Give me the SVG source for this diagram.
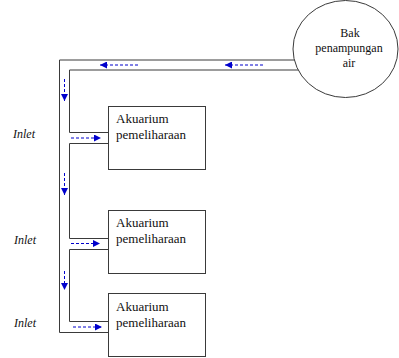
<svg xmlns="http://www.w3.org/2000/svg" width="399" height="358" viewBox="0 0 399 358">
<style>
.pipe{fill:none;stroke:#3a3a3a;stroke-width:1}
.box{fill:#fff;stroke:#3a3a3a;stroke-width:1}
.flow{fill:none;stroke:#0000cc;stroke-width:1;stroke-dasharray:3,2;marker-end:url(#ah)}
.t{font-family:"Liberation Serif","Times New Roman",serif;font-size:13px;fill:#111}
.c{font-family:"Liberation Serif","Times New Roman",serif;font-size:12px;fill:#111;text-anchor:middle}
.inl{font-family:"Liberation Serif","Times New Roman",serif;font-size:12px;font-style:italic;fill:#111}
</style>
<defs>
<marker id="ah" markerUnits="userSpaceOnUse" markerWidth="7" markerHeight="7" refX="7" refY="3.5" orient="auto">
<path d="M0,0 L7,3.5 L0,7 z" fill="#0000cc"/>
</marker>
</defs>
<rect width="399" height="358" fill="#fff"/>
<g id="connectors">
<polyline class="pipe" points="296,60 59.5,60 59.5,332.5 108,332.5"/>
<polyline class="pipe" points="299,70 69.5,70 69.5,132.5 108,132.5"/>
<polyline class="pipe" points="108,143.5 69.5,143.5 69.5,238.5 108,238.5"/>
<polyline class="pipe" points="108,249.5 69.5,249.5 69.5,321.5 108,321.5"/>
<line class="flow" x1="263" y1="65" x2="225" y2="65"/>
<line class="flow" x1="138" y1="65" x2="100" y2="65"/>
<line class="flow" x1="64.5" y1="79" x2="64.5" y2="101"/>
<line class="flow" x1="64.5" y1="173" x2="64.5" y2="195"/>
<line class="flow" x1="64.5" y1="271" x2="64.5" y2="290"/>
<line class="flow" x1="71" y1="138" x2="101" y2="138"/>
<line class="flow" x1="71" y1="243.5" x2="100" y2="243.5"/>
<line class="flow" x1="73" y1="327" x2="102" y2="327"/>
</g>
<g id="bak">
<ellipse class="box" cx="345.5" cy="49" rx="52.5" ry="48.5"/>
<text class="c" x="350" y="37">Bak</text>
<text class="c" x="349" y="52">penampungan</text>
<text class="c" x="349" y="67">air</text>
</g>
<g id="akuarium1">
<rect class="box" x="108.5" y="106.5" width="97" height="63"/>
<text class="t" x="116" y="123">Akuarium</text>
<text class="t" x="116" y="139">pemeliharaan</text>
</g>
<g id="akuarium2">
<rect class="box" x="108.5" y="210.5" width="97" height="63"/>
<text class="t" x="116" y="227">Akuarium</text>
<text class="t" x="116" y="243">pemeliharaan</text>
</g>
<g id="akuarium3">
<rect class="box" x="108.5" y="293.5" width="97" height="63"/>
<text class="t" x="116" y="311">Akuarium</text>
<text class="t" x="116" y="327">pemeliharaan</text>
</g>
<g id="inlets">
<text class="inl" x="13" y="138">Inlet</text>
<text class="inl" x="14" y="244">Inlet</text>
<text class="inl" x="14" y="327">Inlet</text>
</g>
</svg>
